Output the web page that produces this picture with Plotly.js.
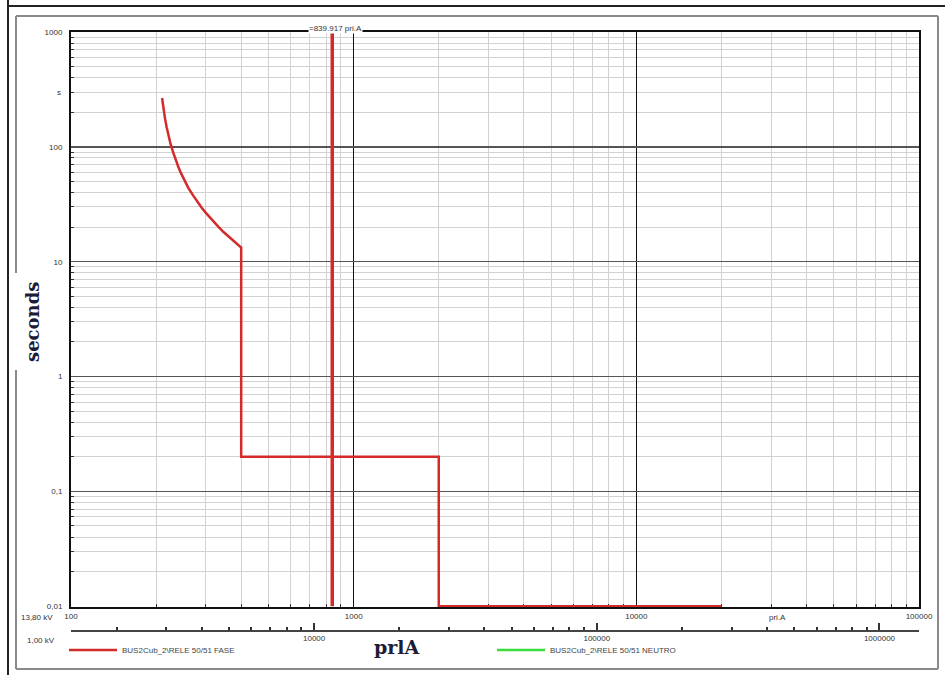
<!DOCTYPE html>
<html><head><meta charset="utf-8">
<script src="https://cdn.plot.ly/plotly-3.0.1.min.js"></script>
<style>html,body{margin:0;padding:0;background:#fff}</style>
</head><body><div id="chart" style="width:945px;height:675px"></div>
<script>
// ---- data ----
const faseCurrent = [210, 212, 215, 218, 220, 225, 230, 235, 240, 245, 250, 260, 270, 280, 290, 300, 315, 330, 345, 360, 380, 400,
                     400, 2000, 2000, 20000];
const faseTime    = [266, 222, 177, 148, 133, 106, 89, 76, 66.5, 59, 53, 44, 38, 33, 29.5, 26.6, 23.1, 20.5, 18.3, 16.6, 14.8, 13.3,
                     0.2, 0.2, 0.01, 0.01];
const pickupCurrent = [839.917, 839.917];
const pickupTime    = [0.01, 1000];
const neutroCurrent = [null];
const neutroTime    = [null];
const xTickVals = [100, 1000, 10000, 100000];
const xTickText = ['100', '1000', '10000', '100000'];
const yTickVals = [0.01, 0.1, 1, 10, 100, 1000];
const yTickText = ['0,01', '0,1', '1', '10', '100', '1000'];
const x2TickVals = [10000, 100000, 1000000];
const x2TickText = ['10000', '100000', '1000000'];
const kvRatio = 13.8;          // 13,80 kV -> 1,00 kV
const xRange = [100, 100000];
const yRange = [0.00985, 1000];

function minorVals(lo, hi) {
  const out = [];
  for (let d = lo; d < hi; d *= 10) for (let k = 2; k <= 9; k++) out.push(d * k);
  return out;
}

// pixel helpers for decorations (paper coords)
const L = 71, R = 26, T = 32, B = 45, W = 945, H = 675;
const pw = W - L - R, ph = H - T - B;
const px = p => (p - L) / pw;
const py = p => (H - B - p) / ph;

const tickFont = {family: 'Liberation Sans, Arial, sans-serif', size: 8, color: '#333'};

const traces = [
  {x: faseCurrent, y: faseTime, type: 'scatter', mode: 'lines', name: 'BUS2Cub_2\\RELE 50/51 FASE',
   line: {color: '#d42a2a', width: 2.5, shape: 'linear'}, hoverinfo: 'skip'},
  {x: neutroCurrent, y: neutroTime, type: 'scatter', mode: 'lines', name: 'BUS2Cub_2\\RELE 50/51 NEUTRO',
   line: {color: '#3ddc3d', width: 2.5}},
  {x: pickupCurrent, y: pickupTime, type: 'scatter', mode: 'lines', showlegend: false,
   line: {color: '#d42a2a', width: 3.5}, hoverinfo: 'skip'},
  {x: [], y: [], xaxis: 'x2', type: 'scatter', mode: 'lines', showlegend: false, hoverinfo: 'skip'}
];

const shapes = [
  // outer dark border (left, top)
  {type: 'line', xref: 'paper', yref: 'paper', x0: px(8), x1: px(8), y0: py(0), y1: py(675), line: {color: '#222', width: 2}},
  {type: 'line', xref: 'paper', yref: 'paper', x0: px(8), x1: px(945), y0: py(6), y1: py(6), line: {color: '#222', width: 2}},
  // inner grey frame
  {type: 'line', xref: 'paper', yref: 'paper', x0: px(16), x1: px(938), y0: py(16), y1: py(16), line: {color: '#8a8a8a', width: 2}},
  {type: 'line', xref: 'paper', yref: 'paper', x0: px(938), x1: px(938), y0: py(16), y1: py(669), line: {color: '#8a8a8a', width: 2}},
  {type: 'line', xref: 'paper', yref: 'paper', x0: px(16), x1: px(938), y0: py(669), y1: py(669), line: {color: '#8a8a8a', width: 2}},
  {type: 'line', xref: 'paper', yref: 'paper', x0: px(16), x1: px(16), y0: py(16), y1: py(273), line: {color: '#8a8a8a', width: 2}},
  {type: 'line', xref: 'paper', yref: 'paper', x0: px(16), x1: px(16), y0: py(370), y1: py(669), line: {color: '#8a8a8a', width: 2}}
];

const ann = (o) => Object.assign({showarrow: false, xanchor: 'center', yanchor: 'middle'}, o);
const annotations = [
  ann({text: 'seconds', xref: 'paper', yref: 'paper', x: px(32), y: py(322), textangle: -90,
   font: {family: 'DejaVu Serif, serif', size: 18, color: '#1c1c38', weight: 'bold'}}),
  ann({text: 'prlA', xref: 'paper', yref: 'paper', x: px(397), y: py(647),
   font: {family: 'DejaVu Serif, serif', size: 19, color: '#1c1c38', weight: 'bold'}}),
  ann({text: '=' + pickupCurrent[0] + ' pri.A', xref: 'x', yref: 'paper', x: Math.log10(pickupCurrent[0]) + 0.01,
   y: py(33.5), yanchor: 'bottom', bgcolor: '#fff', borderpad: 0, font: tickFont}),
  ann({text: 's', xref: 'paper', yref: 'y', x: 0, xshift: -8, xanchor: 'right', y: Math.log10(300), font: tickFont}),
  ann({text: 'pri.A', xref: 'x', yref: 'paper', x: Math.log10(31600), y: py(617), font: tickFont}),
  ann({text: '13,80 kV', xref: 'paper', yref: 'paper', x: px(55), xanchor: 'right', y: py(617), font: tickFont}),
  ann({text: '1,00 kV', xref: 'paper', yref: 'paper', x: px(57), xanchor: 'right', y: py(640), font: tickFont})
];

const layout = {
  width: W, height: H,
  margin: {l: L, r: R, t: T, b: B, autoexpand: false},
  paper_bgcolor: '#fff', plot_bgcolor: '#fff',
  showlegend: true,
  legend: {orientation: 'h', x: px(64), xanchor: 'left', y: py(650), yanchor: 'middle',
           font: {family: 'Liberation Sans, Arial, sans-serif', size: 8, color: '#444'},
           entrywidth: 365, entrywidthmode: 'pixels', itemwidth: 48, bgcolor: 'rgba(0,0,0,0)'},
  xaxis: {type: 'log', range: xRange.map(Math.log10), autorange: false, domain: [0, 1], anchor: 'y',
          tickmode: 'array', tickvals: xTickVals, ticktext: xTickText, tickfont: tickFont,
          ticks: '', showgrid: true, gridcolor: '#111', gridwidth: 1.5,
          showline: true, linecolor: '#111', linewidth: 2, mirror: true, zeroline: false,
          layer: 'below traces', automargin: false,
          minor: {tickmode: 'array', tickvals: minorVals(100, 100000), showgrid: true, gridcolor: '#d2d2d2', gridwidth: 1,
                  ticks: 'inside', ticklen: 3, tickcolor: '#333', tickwidth: 1}},
  xaxis2: {type: 'log', overlaying: 'x', anchor: 'free', position: 0, side: 'bottom',
           range: [Math.log10(xRange[0] * kvRatio), Math.log10(xRange[1] * kvRatio)], autorange: false,
           tickmode: 'array', tickvals: x2TickVals, ticktext: x2TickText, tickfont: tickFont,
           ticks: 'inside', ticklen: 7, tickwidth: 2, tickcolor: '#333',
           showgrid: false, showline: true, linecolor: '#444', linewidth: 1.5, zeroline: false, automargin: false,
           minor: {tickmode: 'array', tickvals: minorVals(1000, 10000000), ticks: 'inside', ticklen: 3, tickcolor: '#333', showgrid: false}},
  yaxis: {type: 'log', range: yRange.map(Math.log10), autorange: false, domain: [py(607), 1],
          tickmode: 'array', tickvals: yTickVals, ticktext: yTickText, tickfont: tickFont, ticklabelstandoff: 5,
          ticks: '', showgrid: true, gridcolor: '#555', gridwidth: 1.5,
          showline: true, linecolor: '#111', linewidth: 2, mirror: true, zeroline: false,
          layer: 'below traces', automargin: false,
          minor: {tickmode: 'array', tickvals: minorVals(0.01, 1000), showgrid: true, gridcolor: '#d2d2d2', gridwidth: 1,
                  ticks: 'inside', ticklen: 3, tickcolor: '#333', tickwidth: 1}},
  shapes: shapes,
  annotations: annotations
};

Plotly.newPlot('chart', traces, layout, {displayModeBar: false, staticPlot: true});
</script></body></html>
